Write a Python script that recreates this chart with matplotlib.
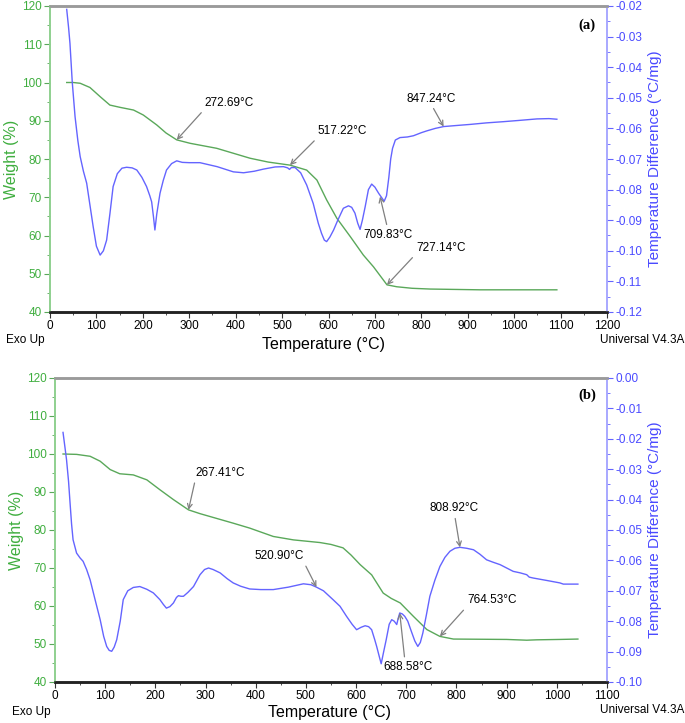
import matplotlib

matplotlib.use("Agg")

import matplotlib.pyplot as plt
from matplotlib.ticker import MultipleLocator, FormatStrFormatter

plt.rcParams["font.family"] = ["Liberation Sans", "DejaVu Sans"]
plt.rcParams["axes.unicode_minus"] = False

GREEN = "#5aa85a"
GREEN_TXT = "#3fae3f"
BLUE = "#6464ff"
BLUE_TXT = "#4a4aff"

# ---- panel (a) ----
a_tga_temp = [36, 50, 65, 86, 108, 129, 151, 180, 201, 230, 250, 273, 302, 359, 395,
              431, 470, 517, 553, 575, 596, 618, 647, 675, 697, 726, 747, 780, 819,
              927, 1092]
a_tga_weight = [100.0, 100.0, 99.8, 98.7, 96.3, 94.1, 93.5, 92.8, 91.5, 88.9, 86.8,
                85.0, 84.1, 82.8, 81.5, 80.2, 79.2, 78.4, 77.1, 74.5, 69.3, 64.5,
                59.7, 54.9, 51.8, 47.1, 46.6, 46.2, 46.0, 45.8, 45.8]

a_dta_temp = [36, 40, 43, 48, 54, 60, 65, 72, 79, 86, 93, 100, 108, 115, 122, 129,
              136, 145, 155, 165, 177, 187, 198, 208, 215, 219, 223, 226, 230, 237,
              244, 251, 262, 273, 285, 300, 323, 360, 395, 417, 440, 460, 485, 503,
              512, 516, 520, 528, 540, 553, 567, 578, 585, 591, 596, 603, 611, 620,
              632, 643, 650, 657, 663, 668, 673, 679, 686, 693, 700, 708, 714, 720,
              725, 730, 734, 738, 744, 754, 770, 783, 800, 812, 830, 848, 880, 905,
              940, 977, 1010, 1049, 1075, 1092]
a_dta_diff = [-0.0211, -0.0270, -0.0322, -0.0450, -0.0562, -0.0640, -0.0692, -0.0740,
              -0.0779, -0.0850, -0.0921, -0.0985, -0.1014, -0.1000, -0.0965, -0.0880,
              -0.0790, -0.0748, -0.0730, -0.0727, -0.0729, -0.0736, -0.0760, -0.0790,
              -0.0820, -0.0840, -0.0890, -0.0932, -0.0880, -0.0812, -0.0770, -0.0736,
              -0.0715, -0.0706, -0.0711, -0.0712, -0.0712, -0.0725, -0.0742, -0.0745,
              -0.0740, -0.0733, -0.0726, -0.0725, -0.0729, -0.0734, -0.0728, -0.0728,
              -0.0745, -0.0785, -0.0845, -0.0910, -0.0943, -0.0965, -0.0970, -0.0955,
              -0.0932, -0.0900, -0.0861, -0.0853, -0.0858, -0.0877, -0.0910, -0.0930,
              -0.0900, -0.0856, -0.0800, -0.0782, -0.0792, -0.0812, -0.0825, -0.0838,
              -0.0820, -0.0760, -0.0700, -0.0665, -0.0638, -0.0630, -0.0628, -0.0624,
              -0.0614, -0.0608, -0.0600, -0.0594, -0.0590, -0.0587, -0.0582, -0.0578,
              -0.0574, -0.0569, -0.0568, -0.0570]

# ---- panel (b) ----
b_tga_temp = [16, 43, 70, 90, 110, 129, 156, 183, 209, 236, 266, 289, 355, 388, 435,
              475, 528, 550, 574, 590, 608, 631, 654, 670, 688, 714, 741, 767, 794,
              900, 940, 960, 1006, 1042]
b_tga_weight = [100.0, 99.9, 99.4, 98.1, 95.9, 94.8, 94.5, 93.2, 90.6, 88.0, 85.3,
                84.3, 81.8, 80.5, 78.3, 77.4, 76.7, 76.2, 75.3, 73.4, 70.9, 68.2,
                63.4, 62.0, 60.8, 57.3, 53.8, 52.0, 51.3, 51.2, 51.0, 51.1, 51.2, 51.3]

b_dta_temp = [16, 20, 23, 27, 30, 33, 36, 43, 50, 56, 63, 70, 80, 90, 97, 103, 108,
              113, 118, 123, 130, 136, 145, 156, 169, 183, 196, 209, 216, 222, 229,
              236, 242, 246, 251, 256, 265, 276, 289, 298, 306, 315, 329, 343, 355,
              370, 388, 410, 435, 465, 495, 510, 521, 535, 554, 568, 581, 592, 601,
              610, 618, 625, 631, 637, 641, 646, 650, 655, 660, 666, 671, 676, 681,
              684, 687, 692, 697, 703, 710, 717, 723, 728, 733, 740, 747, 757, 767,
              777, 787, 797, 807, 820, 834, 847, 860, 873, 887, 900, 913, 927, 940,
              945, 953, 980, 1006, 1013, 1042]
b_dta_diff = [-0.0179, -0.0230, -0.0269, -0.0340, -0.0411, -0.0480, -0.0532, -0.0576,
              -0.0592, -0.0603, -0.0630, -0.0664, -0.0730, -0.0795, -0.0850, -0.0883,
              -0.0896, -0.0899, -0.0885, -0.0861, -0.0800, -0.0729, -0.0700, -0.0689,
              -0.0686, -0.0695, -0.0707, -0.0729, -0.0745, -0.0757, -0.0752, -0.0740,
              -0.0722, -0.0716, -0.0718, -0.0718, -0.0705, -0.0686, -0.0647, -0.0630,
              -0.0625, -0.0630, -0.0641, -0.0660, -0.0674, -0.0685, -0.0694, -0.0696,
              -0.0696, -0.0688, -0.0677, -0.0680, -0.0688, -0.0700, -0.0729, -0.0751,
              -0.0784, -0.0810, -0.0828, -0.0820, -0.0815, -0.0818, -0.0828, -0.0860,
              -0.0883, -0.0915, -0.0940, -0.0900, -0.0861, -0.0810, -0.0795, -0.0800,
              -0.0811, -0.0790, -0.0773, -0.0776, -0.0784, -0.0800, -0.0833, -0.0865,
              -0.0883, -0.0870, -0.0839, -0.0780, -0.0718, -0.0665, -0.0620, -0.0590,
              -0.0570, -0.0560, -0.0557, -0.0560, -0.0565, -0.0580, -0.0598, -0.0606,
              -0.0614, -0.0625, -0.0636, -0.0641, -0.0647, -0.0655, -0.0658, -0.0666,
              -0.0674, -0.0678, -0.0678]

W, H = 685, 723
fig = plt.figure(figsize=(W / 100, H / 100), dpi=100)


def rect(x0, y0, x1, y1):
    return [x0 / W, 1 - y1 / H, (x1 - x0) / W, (y1 - y0) / H]


def ftext(x, y, s, **kw):
    fig.text(x / W, 1 - y / H, s, **kw)


def style_axes(ax, ax2, xmax, ylim2):
    ax.set_xlim(0, xmax)
    ax.set_ylim(40, 120)
    ax2.set_ylim(*ylim2)
    ax.xaxis.set_major_locator(MultipleLocator(100))
    ax.xaxis.set_minor_locator(MultipleLocator(50))
    ax.yaxis.set_major_locator(MultipleLocator(10))
    ax.yaxis.set_minor_locator(MultipleLocator(5))
    ax2.yaxis.set_major_locator(MultipleLocator(0.01))
    ax2.yaxis.set_minor_locator(MultipleLocator(0.005))
    ax2.yaxis.set_major_formatter(FormatStrFormatter("%.2f"))
    ax.tick_params(axis="x", which="major", length=4, width=0.8, labelsize=8.5,
                   pad=2, color="#333333")
    ax.tick_params(axis="x", which="minor", length=2.5, width=0.6, color="#333333")
    ax.tick_params(axis="y", which="major", length=4, width=0.8, labelsize=8.5,
                   pad=2, color=GREEN, labelcolor=GREEN_TXT)
    ax.tick_params(axis="y", which="minor", length=2.5, width=0.6, color=GREEN)
    ax2.tick_params(axis="y", which="major", length=4, width=0.8, labelsize=8.5,
                    pad=2, color=BLUE, labelcolor=BLUE_TXT)
    ax2.tick_params(axis="y", which="minor", length=2.5, width=0.6, color=BLUE)
    for a in (ax, ax2):
        a.spines["top"].set_color("#9a9a9a")
        a.spines["top"].set_linewidth(1.8)
        a.spines["bottom"].set_color("#222222")
        a.spines["bottom"].set_linewidth(1.8)
        a.spines["left"].set_color("#8fd08f")
        a.spines["left"].set_linewidth(1.2)
        a.spines["right"].set_color("#a8a8ff")
        a.spines["right"].set_linewidth(1.2)
    ax.set_ylabel("Weight (%)", color=GREEN_TXT, fontsize=11.5, labelpad=2)
    ax2.set_ylabel("Temperature Difference (°C/mg)", color=BLUE_TXT, fontsize=11,
                   labelpad=4)


def note(ax, text, xy, off, relpos):
    ax.annotate(text, xy=xy, xytext=off, textcoords="offset pixels",
                ha="left", va="center", fontsize=8.5, color="black",
                arrowprops=dict(arrowstyle="->", color="#808080", lw=0.9,
                                relpos=relpos, shrinkA=1, shrinkB=0))


# panel (a)
ax = fig.add_axes(rect(50, 6, 607, 312))
ax2 = ax.twinx()
ax.plot(a_tga_temp, a_tga_weight, color=GREEN, lw=1.0)
ax2.plot(a_dta_temp, a_dta_diff, color=BLUE, lw=1.0)
style_axes(ax, ax2, 1200, (-0.12, -0.02))
note(ax, "272.69°C", (273, 85.0), (28, 37), (0, 0))
note(ax, "517.22°C", (517, 78.4), (28, 34), (0, 0))
note(ax2, "709.83°C", (711, -0.0823), (-17, -38), (0.5, 1))
note(ax, "727.14°C", (726, 47.1), (29, 37), (0, 0))
note(ax2, "847.24°C", (848, -0.0594), (-37, 28), (0.5, 0))
ftext(578, 25, "(a)", fontsize=10.5, fontweight="bold", family="Liberation Serif",
      va="center")

ftext(6, 340, "Exo Up", fontsize=8.5, va="center")
ftext(324, 344, "Temperature (°C)", fontsize=11.5, ha="center", va="center")
ftext(684, 340, "Universal V4.3A", fontsize=8.5, ha="right", va="center")

# panel (b)
bx = fig.add_axes(rect(55, 378, 607, 682))
bx2 = bx.twinx()
bx.plot(b_tga_temp, b_tga_weight, color=GREEN, lw=1.0)
bx2.plot(b_dta_temp, b_dta_diff, color=BLUE, lw=1.0)
style_axes(bx, bx2, 1100, (-0.10, 0.0))
note(bx, "267.41°C", (266, 85.3), (7, 37), (0, 0))
note(bx2, "520.90°C", (521, -0.0688), (-62, 31), (1, 0))
note(bx2, "808.92°C", (807, -0.0557), (-30, 39), (0.5, 0))
note(bx, "764.53°C", (767, 52.0), (27, 36), (0, 0))
note(bx2, "688.58°C", (687, -0.0773), (-16, -54), (0.43, 1))
ftext(578, 395, "(b)", fontsize=10.5, fontweight="bold", family="Liberation Serif",
      va="center")

ftext(12, 712, "Exo Up", fontsize=8.5, va="center")
ftext(330, 713, "Temperature (°C)", fontsize=11.5, ha="center", va="center")
ftext(684, 710, "Universal V4.3A", fontsize=8.5, ha="right", va="center")

fig.savefig("out.png", dpi=100)
